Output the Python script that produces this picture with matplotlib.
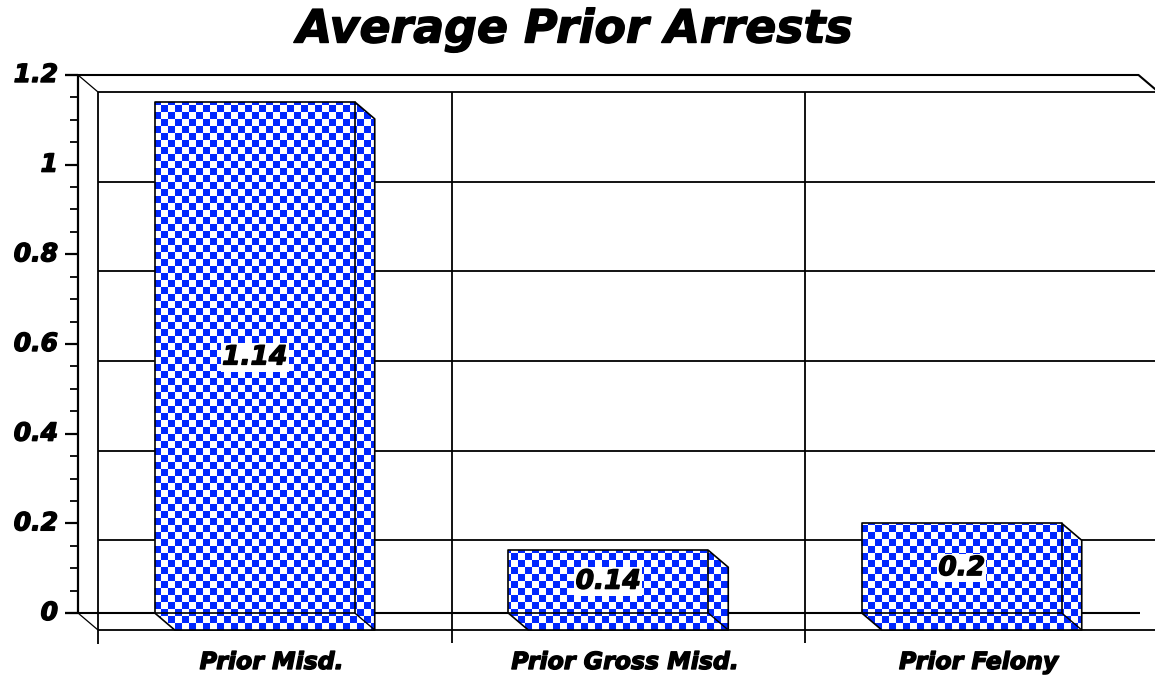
import matplotlib
matplotlib.use('Agg')
import matplotlib.pyplot as plt
import matplotlib.patheffects as pe
import numpy as np
from matplotlib.patches import Polygon
from matplotlib.transforms import IdentityTransform

# ---------------- data ----------------
categories = ['Prior Misd.', 'Prior Gross Misd.', 'Prior Felony']
values = [1.14, 0.14, 0.2]
value_labels = ['1.14', '0.14', '0.2']
yticks = [0, 0.2, 0.4, 0.6, 0.8, 1.0, 1.2]
ytick_labels = ['0', '0.2', '0.4', '0.6', '0.8', '1', '1.2']
minor_step = 0.05
title = 'Average Prior Arrests'

# ---------------- layout ----------------
W, H = 1155, 681
fig = plt.figure(figsize=(W / 100, H / 100), dpi=100)
left_px, right_px = 78, 1138.5
bottom_px, top_px = H - 613, H - 75
ax = fig.add_axes([left_px / W, bottom_px / H, (right_px - left_px) / W, (top_px - bottom_px) / H])
ymax = yticks[-1]
ax.set_xlim(-0.5, len(categories) - 0.5)
ax.set_ylim(0, ymax)
ax.axis('off')

px_x = (right_px - left_px) / len(categories)   # pixels per x unit
px_y = (top_px - bottom_px) / ymax              # pixels per y unit
DX = 20 / px_x
DY = -17 / px_y
XL = -0.5
XR = len(categories) - 0.5
XFAR = XR + 0.2

BLUE = '#0026ff'
LC = 'black'
kw = dict(color=LC, clip_on=False, solid_capstyle='butt')

# back wall: top, gridlines, floor
for v in yticks:
    ax.plot([XL + DX, XFAR], [v + DY, v + DY], lw=1.3, zorder=1, **kw)
# back wall left edge and category dividers
ax.plot([XL + DX, XL + DX], [ymax + DY, DY - 14 / px_y], lw=1.3, zorder=1, **kw)
for d in np.arange(0.5, XR, 1.0):
    ax.plot([d + DX, d + DX], [ymax + DY, DY - 13 / px_y], lw=1.3, zorder=1, **kw)

# front plane frame
ax.plot([XL - 13 / px_x, XR, XR + DX], [ymax, ymax, ymax + DY], lw=1.5, zorder=2, **kw)
ax.plot([XL - 13 / px_x, XR + 0.005], [0, 0], lw=1.5, zorder=2, **kw)
ax.plot([XL, XL], [0, ymax], lw=1.6, zorder=2, **kw)
ax.plot([XL, XL + DX], [ymax, ymax + DY], lw=0.9, zorder=2, **kw)
ax.plot([XL, XL + DX], [0, DY], lw=0.9, zorder=2, **kw)

# ticks
for v in yticks:
    ax.plot([XL - 13 / px_x, XL], [v, v], lw=1.6, zorder=2, **kw)
for v in np.arange(0, ymax + 1e-9, minor_step):
    if min(abs(v - t) for t in yticks) > 1e-6:
        ax.plot([XL - 8 / px_x, XL], [v, v], lw=1.3, zorder=2, **kw)

heavy = [pe.withStroke(linewidth=1.0, foreground='black')]
lab_font = dict(family=['DejaVu Sans'], fontweight='bold', fontstyle='italic', path_effects=heavy)
for v, t in zip(yticks, ytick_labels):
    ax.text(XL - 20 / px_x, v, t, ha='right', va='center', fontsize=18, clip_on=False, **lab_font)

# checker image in display pixels
s = 7
yy, xx = np.mgrid[0:H, 0:W]
chk = ((xx // s + yy // s) % 2).astype(bool)
img = np.ones((H, W, 3))
blue_rgb = np.array(matplotlib.colors.to_rgb(BLUE))
img[~chk] = blue_rgb

bw = 200 / px_x
for i, (v, lab) in enumerate(zip(values, value_labels)):
    x0, x1 = i - bw / 2, i + bw / 2
    hexa = [(x0, 0), (x0, v), (x1, v), (x1 + DX, v + DY), (x1 + DX, DY), (x0 + DX, DY)]
    poly = Polygon(hexa, closed=True, facecolor='none', edgecolor='none',
                   transform=ax.transData, clip_on=False, zorder=3)
    ax.add_patch(poly)
    im = ax.imshow(img, extent=(0, W, 0, H), origin='upper', interpolation='nearest',
                   transform=IdentityTransform(), aspect='auto', zorder=3)
    im.set_clip_box(fig.bbox)
    im.set_clip_path(poly)
    # outlines
    ax.plot([x0, x0, x1, x1, x0], [0, v, v, 0, 0], lw=1.2, zorder=4, **kw)
    ax.plot([x1, x1 + DX, x1 + DX, x0 + DX, x0], [v, v + DY, DY, DY, 0], lw=1.2, zorder=4, **kw)
    ax.plot([x1, x1 + DX], [0, DY], lw=1.0, zorder=4, **kw)
    ax.text(i, v / 2, lab, ha='center', va='center', fontsize=19, zorder=5, clip_on=False,
            bbox=dict(facecolor='white', edgecolor='none', pad=1.0), **lab_font)
    ax.text(i + 17 / px_x, -(662 - 613) / px_y, categories[i], ha='center', va='center',
            fontsize=17, clip_on=False, **lab_font)

ax.set_xlim(-0.5, len(categories) - 0.5)
ax.set_ylim(0, ymax)

fig.text(575 / W, 1 - 30 / H, title, ha='center', va='center', fontsize=33, **lab_font)

fig.savefig('out.png', dpi=100)
